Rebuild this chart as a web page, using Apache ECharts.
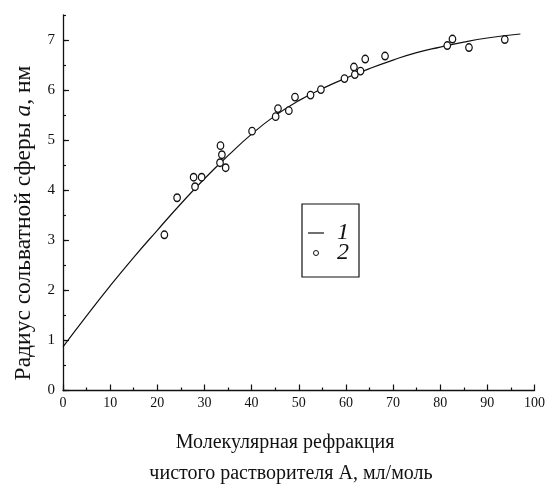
<!DOCTYPE html>
<html>
<head>
<meta charset="utf-8">
<script src="https://cdn.jsdelivr.net/npm/echarts@6/dist/echarts.min.js"></script>
<style>
  html, body { margin: 0; padding: 0; background: #fff; }
  #chart { width: 548px; height: 485px; }
</style>
</head>
<body>
<div id="chart"></div>
<script>
// Fitted curve (1): solvation sphere radius vs molar refraction
const curveX = [0, 5, 10, 15, 20, 25, 30, 35, 40, 45, 50, 55, 60, 65, 70, 75, 80, 85, 90, 97];
const curveY = [0.87, 1.49, 2.09, 2.66, 3.2, 3.73, 4.23, 4.69, 5.12, 5.49, 5.79, 6.03, 6.24, 6.43, 6.6, 6.75, 6.86, 6.96, 7.04, 7.12];

// Measured points (2)
const pointsX = [21.5, 24.2, 27.7, 28.0, 29.4, 33.3, 33.4, 33.7, 34.5, 40.1, 45.1, 45.6, 47.9, 49.2, 52.5, 54.7, 59.7, 61.7, 61.9, 63.1, 64.1, 68.3, 81.5, 82.6, 86.1, 93.7];
const pointsY = [3.11, 3.85, 4.26, 4.07, 4.26, 4.55, 4.89, 4.71, 4.45, 5.18, 5.47, 5.63, 5.59, 5.86, 5.90, 6.01, 6.23, 6.46, 6.31, 6.38, 6.62, 6.68, 6.89, 7.02, 6.85, 7.01];

const yMajorTicks = [0, 1, 2, 3, 4, 5, 6, 7];
const seriesNames = ['1', '2'];
const yTitle = ['Радиус сольватной сферы ', 'a', ', нм'];
const xTitle = ['Молекулярная рефракция', 'чистого растворителя А, мл/моль'];

const serif = '"Liberation Serif", "DejaVu Serif", serif';
const ink = '#111';

const chart = echarts.init(document.getElementById('chart'), null, { renderer: 'canvas' });

chart.setOption({
  animation: false,
  backgroundColor: '#fff',
  grid: { left: 63, right: 13, top: 15, bottom: 94.5 },
  xAxis: {
    type: 'value', min: 0, max: 100, interval: 10,
    axisLine: { show: true, lineStyle: { color: ink, width: 1.3 } },
    axisTick: { show: true, inside: true, length: 6, lineStyle: { color: ink, width: 1.2 } },
    minorTick: { show: true, splitNumber: 2, length: 3, lineStyle: { color: ink, width: 1.2 } },
    axisLabel: { color: ink, fontFamily: serif, fontSize: 14, margin: 6 },
    splitLine: { show: false }
  },
  yAxis: [
    {
      type: 'value', min: 0, max: 7.5, interval: 0.5,
      axisLine: { show: true, lineStyle: { color: ink, width: 1.3 } },
      axisTick: { show: true, inside: true, length: 3, lineStyle: { color: ink, width: 1.2 } },
      axisLabel: {
        color: ink, fontFamily: serif, fontSize: 15, margin: 8,
        formatter: v => (Number.isInteger(v) ? String(v) : '')
      },
      splitLine: { show: false }
    },
    {
      type: 'value', min: 0, max: 7.5, position: 'left',
      axisLine: { show: false },
      axisTick: { show: true, inside: true, length: 6, customValues: yMajorTicks, lineStyle: { color: ink, width: 1.2 } },
      axisLabel: { show: false },
      splitLine: { show: false }
    }
  ],
  legend: {
    orient: 'vertical',
    left: 302, top: 204,
    width: 57,
    padding: [17, 10, 12, 6],
    itemGap: -4,
    itemWidth: 16, itemHeight: 5,
    borderColor: ink, borderWidth: 1.2,
    textStyle: { fontFamily: serif, fontSize: 24, fontStyle: 'italic', color: ink, padding: [0, 0, 0, 8] },
    data: [
      { name: seriesNames[0], icon: 'path://M0,0 L40,0 L40,3 L0,3 Z' },
      { name: seriesNames[1], icon: 'circle', itemStyle: { color: '#fff', borderColor: ink, borderWidth: 1 } }
    ]
  },
  series: [
    {
      name: seriesNames[0],
      type: 'line',
      smooth: 0.5,
      symbol: 'none',
      itemStyle: { color: ink },
      lineStyle: { color: ink, width: 1.2 },
      data: curveX.map((x, i) => [x, curveY[i]]),
      z: 2
    },
    {
      name: seriesNames[1],
      type: 'scatter',
      symbol: 'circle',
      symbolSize: [6.5, 7.5],
      itemStyle: { color: '#fff', borderColor: ink, borderWidth: 1.3, opacity: 1 },
      data: pointsX.map((x, i) => [x, pointsY[i]]),
      z: 3
    }
  ],
  graphic: [
    {
      type: 'text',
      x: 24, y: 223,
      rotation: Math.PI / 2,
      style: {
        text: '{n|' + yTitle[0] + '}{i|' + yTitle[1] + '}{n|' + yTitle[2] + '}',
        align: 'center', verticalAlign: 'middle',
        rich: {
          n: { fontFamily: serif, fontSize: 23.5, fill: ink },
          i: { fontFamily: serif, fontSize: 23.5, fontStyle: 'italic', fill: ink }
        }
      }
    },
    {
      type: 'text', x: 285, y: 443,
      style: { text: xTitle[0], fontFamily: serif, fontSize: 20, fill: ink, align: 'center', verticalAlign: 'middle' }
    },
    {
      type: 'text', x: 291, y: 474,
      style: { text: xTitle[1], fontFamily: serif, fontSize: 20, fill: ink, align: 'center', verticalAlign: 'middle' }
    }
  ]
});
</script>
</body>
</html>
